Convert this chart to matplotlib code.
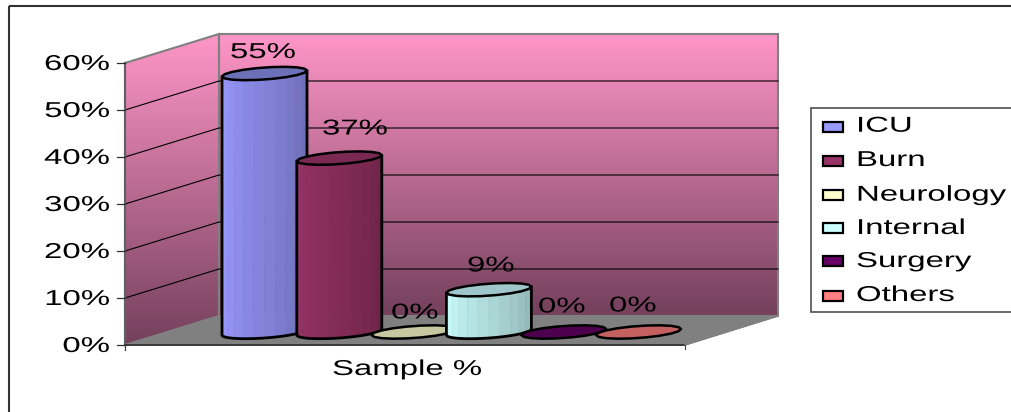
import numpy as np
import matplotlib
matplotlib.use("Agg")
import matplotlib.pyplot as plt
from matplotlib.colors import to_rgb
from matplotlib.patches import Polygon, Rectangle
from matplotlib.patheffects import AbstractPathEffect
from matplotlib.transforms import Affine2D

plt.rcParams['font.family'] = ['Liberation Sans', 'DejaVu Sans']

# chart data
categories = ['ICU', 'Burn', 'Neurology', 'Internal', 'Surgery', 'Others']
values = [55, 37, 0, 9, 0, 0]
axis_ticks = [0, 10, 20, 30, 40, 50, 60]
x_label = 'Sample %'

# colours: lit side of each cylinder, dark side, top cap
side_light = ['#9999FF', '#993366', '#FFFFCC', '#CCFFFF', '#660066', '#FF8080']
side_dark = ['#6B6BB3', '#6B2447', '#B3B38F', '#8FB3B3', '#470047', '#B35A5A']
cap_colors = ['#6C70B6', '#7A2A52', '#C8C8A0', '#9FC6CA', '#4E004E', '#C46060']

# layout in pixels
W, H = 1011, 412
FRONT_X, FRONT_Y0 = 125, 345
BACK_X, BACK_Y0 = 219, 316
FLOOR_RIGHT = 685
WALL_RIGHT = 778
PX_PER_UNIT = 4.7
BAR_Y0 = 332
BAR_X0, BAR_DX = 264.5, 74.8
BAR_RX, BAR_RY, BAR_SKEW = 42.5, 6.0, 3.0

label_left = [230, 322, 391, 467, 538, 609]
label_y = [51, 127.5, 311.5, 264.5, 305.5, 304.5]
legend_rows = [127, 161, 195, 228, 261, 296]
legend_text_y = [124.7, 159, 193.7, 227, 260, 294]

FONT = 15.5
STRETCH = 1.53
BASELINE_DROP = 7


class WideText(AbstractPathEffect):
    # widen glyphs horizontally, the text keeps its left anchor
    def __init__(self, sx):
        super().__init__()
        self.sx = sx

    def draw_path(self, renderer, gc, tpath, affine, rgbFace=None):
        renderer.draw_path(gc, tpath, Affine2D().scale(self.sx, 1) + affine, rgbFace)


def put_text(ax, x, y, s, right=False):
    t = ax.text(x, y + BASELINE_DROP, s, fontsize=FONT, color='black', ha='left',
                va='baseline', path_effects=[WideText(STRETCH)], zorder=8)
    if right:
        width = t.get_window_extent(fig.canvas.get_renderer()).width * STRETCH
        t.set_x(x - width)
    return t


def wall_gradient(ax, poly, y_top, y_bottom):
    top = np.array([255, 150, 200]) / 255
    bottom = np.array([116, 64, 92]) / 255
    ramp = np.linspace(0, 1, 256)[:, None, None]
    img = top + (bottom - top) * ramp
    im = ax.imshow(img, extent=(0, W, y_bottom, y_top), aspect='auto', zorder=1)
    im.set_clip_path(Polygon(poly, closed=True, transform=ax.transData))


fig = plt.figure(figsize=(W / 100, H / 100), dpi=100)
fig.patch.set_facecolor('white')

# background axes in pixel units, holds walls, floor, frame and legend
bg = fig.add_axes([0, 0, 1, 1])
bg.set_xlim(0, W)
bg.set_ylim(H, 0)
bg.axis('off')

y_top = FRONT_Y0 - axis_ticks[-1] * PX_PER_UNIT
back_top = BACK_Y0 - axis_ticks[-1] * PX_PER_UNIT

# outer frame, only its top and left sides fall inside the figure
bg.add_patch(Rectangle((8.5, 5.5), W + 20, H + 20, fill=False, ec='#333333', lw=1.5, zorder=0.5))

# walls
side_wall = [(FRONT_X, FRONT_Y0), (FRONT_X, y_top), (BACK_X, back_top), (BACK_X, BACK_Y0)]
back_wall = [(BACK_X, BACK_Y0), (BACK_X, back_top), (WALL_RIGHT, back_top), (WALL_RIGHT, BACK_Y0)]
floor = [(FRONT_X, FRONT_Y0), (BACK_X, BACK_Y0), (WALL_RIGHT, BACK_Y0), (FLOOR_RIGHT, FRONT_Y0)]
wall_gradient(bg, side_wall, back_top, FRONT_Y0)
wall_gradient(bg, back_wall, back_top, BACK_Y0)
bg.add_patch(Polygon(floor, closed=True, fc='#808080', ec='#808080', lw=1, zorder=1.5))
for wall in (side_wall, back_wall):
    bg.add_patch(Polygon(wall, closed=True, fill=False, ec='#808080', lw=1.5, zorder=2))

# gridlines on the back and side walls
for t in axis_ticks[1:-1]:
    yf = FRONT_Y0 - t * PX_PER_UNIT
    yb = BACK_Y0 - t * PX_PER_UNIT
    bg.plot([FRONT_X, BACK_X, WALL_RIGHT], [yf, yb, yb], color='black', lw=0.8, zorder=2.5)

# front axis lines and ticks
bg.plot([FRONT_X, FRONT_X], [y_top, FRONT_Y0], color='#606060', lw=1.5, zorder=3)
bg.plot([FRONT_X, FLOOR_RIGHT], [FRONT_Y0, FRONT_Y0], color='#333333', lw=1.3, zorder=3)
bg.plot([FLOOR_RIGHT, WALL_RIGHT], [FRONT_Y0, BACK_Y0], color='#808080', lw=1, zorder=3)
bg.plot([FLOOR_RIGHT, FLOOR_RIGHT], [FRONT_Y0, FRONT_Y0 + 4], color='#404040', lw=0.8, zorder=3)
for t in axis_ticks:
    y = FRONT_Y0 - t * PX_PER_UNIT
    bg.plot([FRONT_X - 8, FRONT_X], [y, y], color='#303030', lw=0.9, zorder=3)
    put_text(bg, 110, y, f'{t}%', right=True)
bg.plot([FRONT_X, FRONT_X], [FRONT_Y0, FRONT_Y0 + 5], color='#404040', lw=0.9, zorder=3)

put_text(bg, 332, 368, x_label)

# legend
bg.add_patch(Rectangle((811, 108), W + 20 - 811, 204, fc='white', ec='#505050', lw=1.2, zorder=3))
for name, col, row, ty in zip(categories, side_light, legend_rows, legend_text_y):
    bg.add_patch(Rectangle((823, row - 5), 20, 10, fc=col, ec='black', lw=1.6, zorder=4))
    put_text(bg, 856, ty, name)

# bar axes: x is the category index, y is the percent value
ax = fig.add_axes([0, 0, 1, 1], facecolor='none')
ax.set_xlim(-BAR_X0 / BAR_DX, (W - BAR_X0) / BAR_DX)
ax.set_ylim((BAR_Y0 - H) / PX_PER_UNIT, BAR_Y0 / PX_PER_UNIT)
ax.axis('off')
ax.set_zorder(bg.get_zorder() + 1)

rx = BAR_RX / BAR_DX
ry = BAR_RY / PX_PER_UNIT
skew = BAR_SKEW / PX_PER_UNIT


def rim(i, level, t):
    return i + rx * np.cos(t), level + skew * np.cos(t) + ry * np.sin(t)


# cylinders, each one is drawn over its left neighbour
for i, v in enumerate(values):
    z = 5 + i * 0.1
    if v > 0:
        edges = np.linspace(np.pi, 2 * np.pi, 13)
        for k in range(len(edges) - 1):
            xa, ya = rim(i, 0, edges[k])
            xb, yb = rim(i, 0, edges[k + 1])
            xc, yc = rim(i, v, edges[k + 1])
            xd, yd = rim(i, v, edges[k])
            f = k / (len(edges) - 2)
            col = (1 - f) * np.array(to_rgb(side_light[i])) + f * np.array(to_rgb(side_dark[i]))
            ax.add_patch(Polygon([(xa, ya), (xb, yb), (xc, yc), (xd, yd)], closed=True,
                                 fc=col, ec=col, lw=0.3, zorder=z))
        tb = np.linspace(np.pi, 2 * np.pi, 40)
        bx, by = rim(i, 0, tb)
        ax.plot(np.r_[bx[0], bx, bx[-1]], np.r_[v - skew, by, v + skew],
                color='black', lw=2, zorder=z + 0.02, solid_capstyle='round')
    tc = np.linspace(0, 2 * np.pi, 19)
    cx, cy = rim(i, v, tc)
    ax.add_patch(Polygon(np.c_[cx, cy], closed=True, fc=cap_colors[i], ec='black',
                         lw=1.8, joinstyle='round', zorder=z + 0.03))

# value labels above the cylinders
for v, lx, ly in zip(values, label_left, label_y):
    put_text(bg, lx, ly, f'{v}%')

fig.savefig('out.png', dpi=100)
plt.close()
